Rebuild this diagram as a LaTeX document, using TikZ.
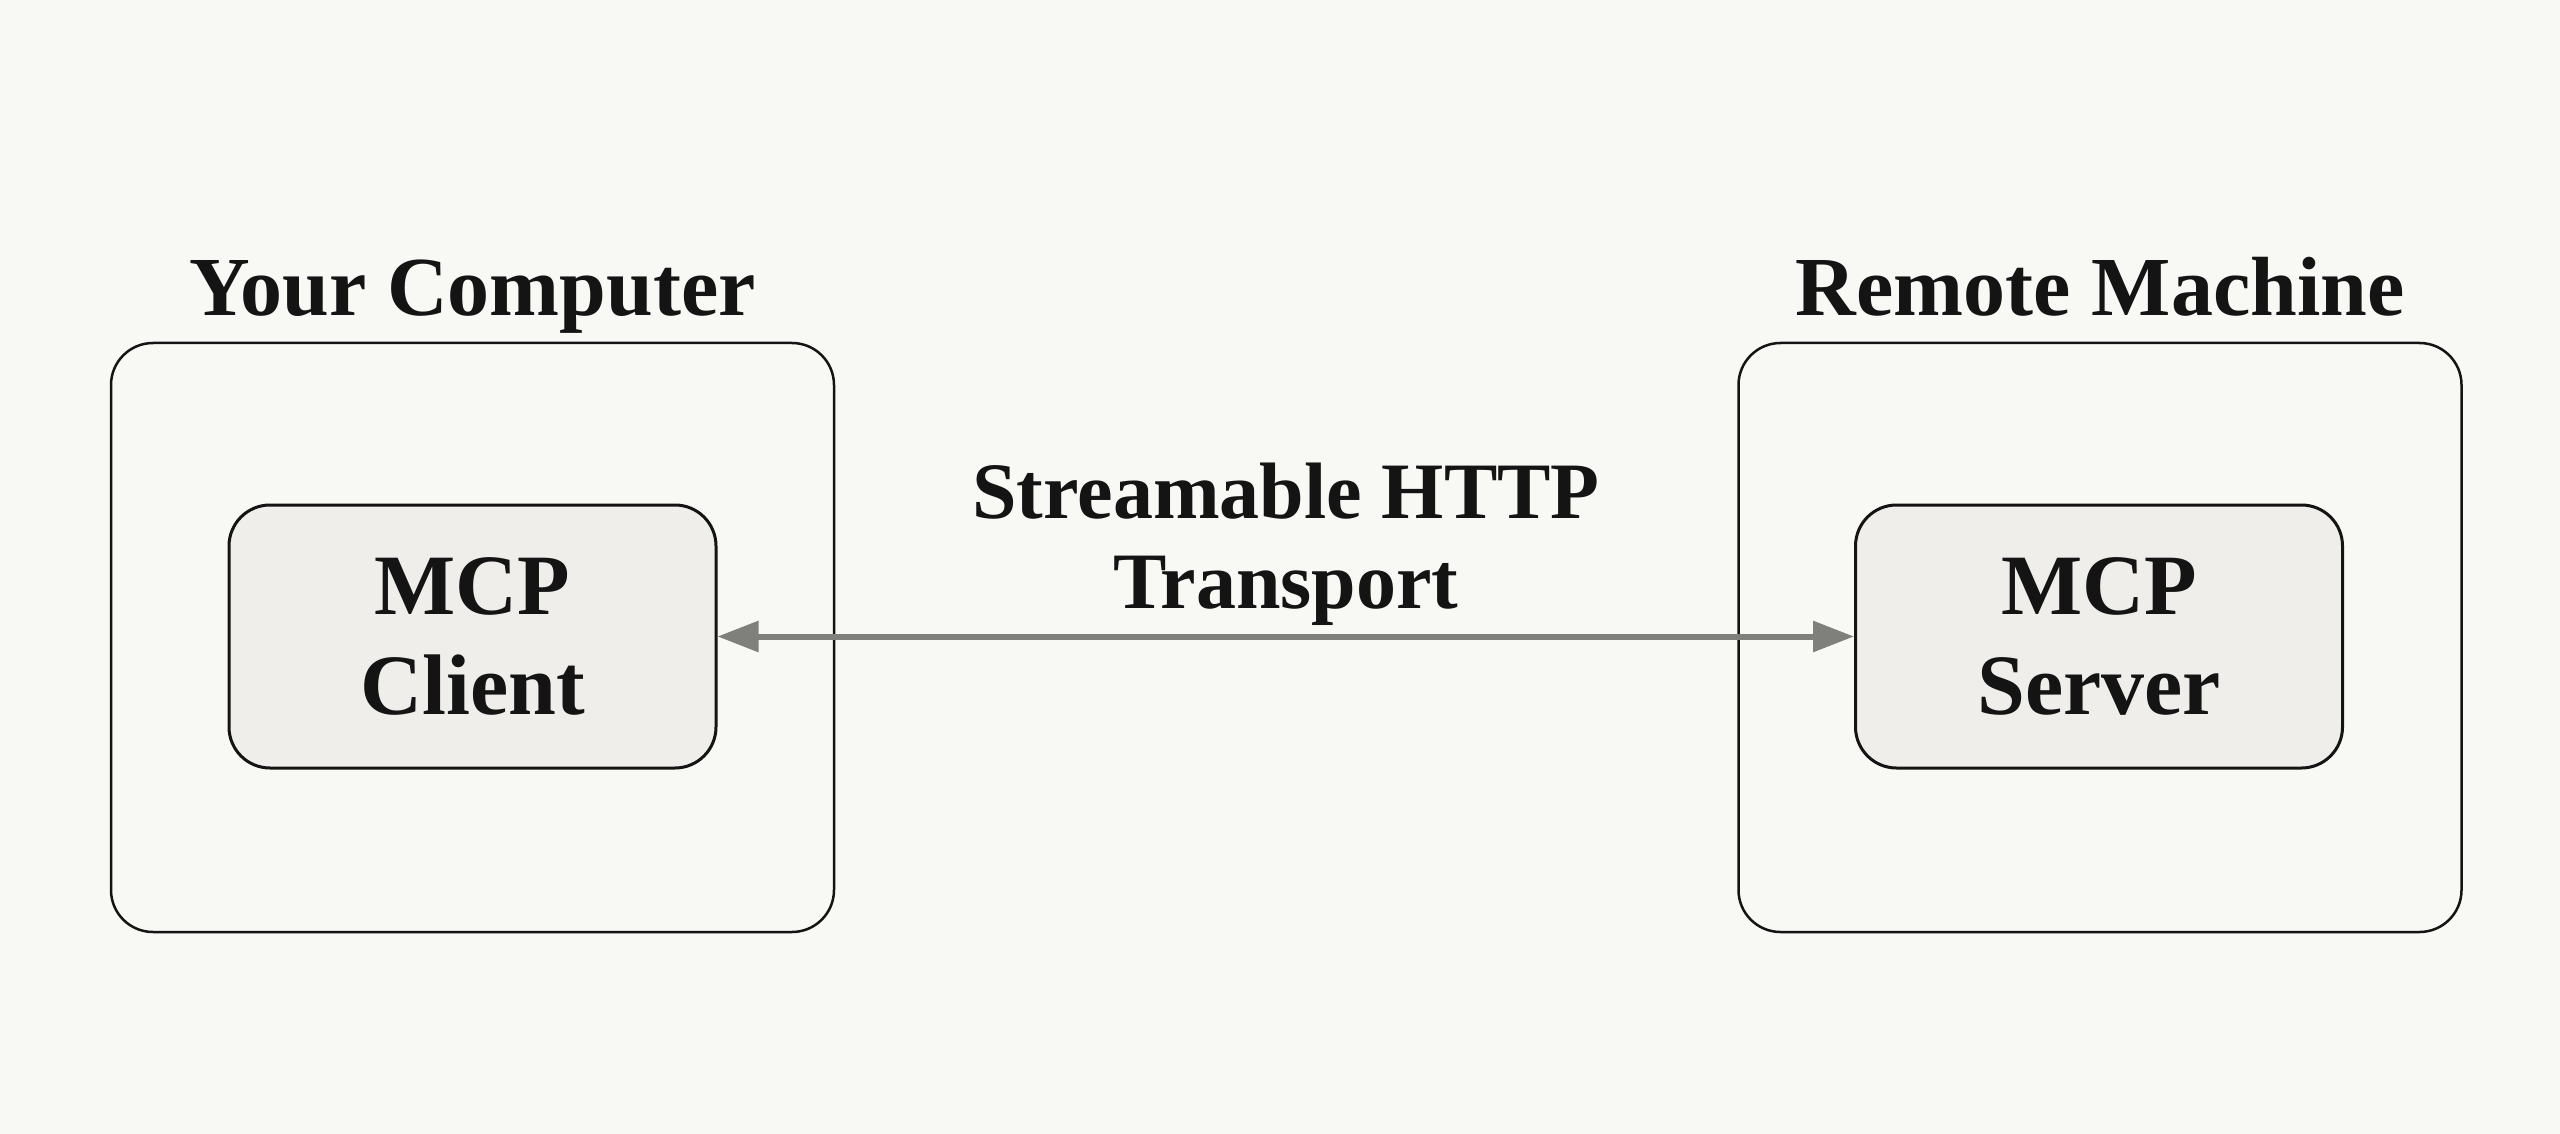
\documentclass[tikz,border=0pt]{standalone}
\usepackage{fontspec}
\setmainfont{Liberation Serif}
\usetikzlibrary{arrows.meta}
\definecolor{bgcol}{HTML}{F8F9F5}
\definecolor{innerfill}{HTML}{EFEEEB}
\definecolor{ink}{HTML}{141414}
\definecolor{linkgray}{HTML}{7F807C}
\tikzset{
  outerbox/.style={draw=ink, line width=1.25pt, rounded corners=21pt, minimum width=361.5pt, minimum height=294.5pt, inner sep=0pt},
  innerbox/.style={draw=ink, fill=innerfill, line width=1.5pt, rounded corners=20.5pt, minimum width=243.5pt, minimum height=131.5pt, inner sep=0pt, align=center, text=ink, font=\fontsize{43}{50}\selectfont\bfseries},
  heading/.style={anchor=base, inner sep=0pt, text=ink, font=\fontsize{42}{50}\selectfont\bfseries},
  linklabel/.style={anchor=base, inner sep=0pt, align=center, text=ink, font=\fontsize{40}{45}\selectfont\bfseries},
  link/.style={draw=linkgray, line width=3pt, {Triangle[length=20.5pt,width=15pt]}-{Triangle[length=20.5pt,width=15pt]}}
}
\begin{document}
\begin{tikzpicture}[x=0.5pt,y=-0.5pt]
  \fill[bgcol] (0,0) rectangle (2560,1134);
  \useasboundingbox (0,0) rectangle (2560,1134);
  \node[outerbox] (yourpc) at (472.5,637.5) {};
  \node[outerbox] (remote) at (2100,637.5) {};
  \node[heading] (yourpclabel) at (472.5,315) {Your Computer};
  \node[heading] (remotelabel) at (2100,315) {Remote Machine};
  \node[innerbox] (client) at (472.5,636.5) {\raisebox{-2.5pt}{MCP}\\\raisebox{-2.5pt}{Client}};
  \node[innerbox] (server) at (2099,636.5) {\raisebox{-2.5pt}{MCP}\\\raisebox{-2.5pt}{Server}};
  \draw[link] (client.east) -- (server.west);
  \node[linklabel] (transport) at (1286,608) {Streamable HTTP\\Transport};
\end{tikzpicture}
\end{document}
